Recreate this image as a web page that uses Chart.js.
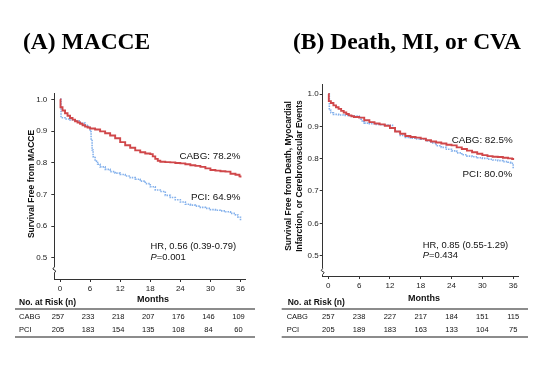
<!DOCTYPE html>
<html><head><meta charset="utf-8">
<script src="https://cdn.jsdelivr.net/npm/chart.js@4.4.1/dist/chart.umd.min.js"></script>
<style>
html,body{margin:0;padding:0;background:#fff;width:550px;height:380px;overflow:hidden}
canvas{position:absolute;top:0}
#cA{left:0}
#cB{left:275px}
</style></head>
<body>
<canvas id="cA" width="275" height="380"></canvas>
<canvas id="cB" width="275" height="380"></canvas>
<script>
// ---------- data ----------
const xTicks = [0, 6, 12, 18, 24, 30, 36];
const yTicks = [0.5, 0.6, 0.7, 0.8, 0.9, 1.0];
const groups = ['CABG', 'PCI'];

// Panel A: MACCE
const maccCabgMonths = [0,0.1,0.5,1,1.5,2,2.5,3,3.5,4,4.5,5,5.5,6,7,8,9,10,11,12,13,14,15,16,17,18,18.5,19,19.5,20,21,22,23,24,25,26,27,28,29,30,31,32,33,34,35,35.8,36];
const maccCabgSurv   = [1.0,0.975,0.965,0.956,0.948,0.941,0.936,0.931,0.927,0.923,0.918,0.914,0.911,0.908,0.905,0.899,0.893,0.886,0.877,0.865,0.855,0.847,0.839,0.833,0.829,0.827,0.82,0.812,0.806,0.803,0.802,0.801,0.799,0.798,0.795,0.792,0.79,0.787,0.782,0.777,0.775,0.773,0.772,0.765,0.762,0.757,0.753];
const maccPciMonths  = [0,0.2,1,2,3,4,5,5.6,6,6.2,6.4,6.6,7,7.5,8,9,10,11,12,13,14,15,16,17,18,19,20,21,22,23,24,25,26,27,28,29,30,31,32,33,34,35,35.5,36];
const maccPciSurv    = [1.0,0.942,0.938,0.935,0.932,0.925,0.918,0.914,0.898,0.87,0.84,0.819,0.805,0.795,0.787,0.779,0.772,0.767,0.763,0.758,0.753,0.748,0.742,0.734,0.724,0.714,0.709,0.697,0.69,0.683,0.676,0.669,0.666,0.663,0.659,0.656,0.652,0.65,0.648,0.645,0.64,0.635,0.628,0.617];
const maccRiskCabg = [257, 233, 218, 207, 176, 146, 109];
const maccRiskPci  = [205, 183, 154, 135, 108, 84, 60];

// Panel B: Death, MI, or CVA
const dmcCabgMonths = [0,0.1,0.5,1,1.5,2,2.5,3,3.5,4,4.5,5,6,7,8,9,10,11,12,13,14,15,16,17,18,19,20,21,22,23,24,25,26,27,28,29,30,31,32,33,34,35,35.8,36];
const dmcCabgSurv   = [1.0,0.978,0.972,0.965,0.959,0.954,0.948,0.943,0.938,0.934,0.931,0.929,0.927,0.919,0.913,0.909,0.906,0.902,0.895,0.884,0.877,0.87,0.867,0.865,0.862,0.857,0.853,0.85,0.847,0.843,0.841,0.835,0.83,0.825,0.82,0.815,0.811,0.808,0.806,0.805,0.803,0.801,0.799,0.796];
const dmcPciMonths  = [0,0.2,0.5,1,2,3,4,5,6,6.3,6.6,7,8,9,10,11,12,12.5,13,14,15,16,17,18,19,20,21,22,23,24,25,26,27,28,29,30,31,32,33,34,35,35.5,36];
const dmcPciSurv    = [1.0,0.95,0.942,0.937,0.935,0.934,0.933,0.932,0.93,0.922,0.914,0.91,0.908,0.906,0.905,0.904,0.903,0.894,0.884,0.872,0.866,0.863,0.861,0.86,0.855,0.849,0.84,0.835,0.829,0.824,0.818,0.812,0.808,0.806,0.803,0.801,0.798,0.796,0.794,0.791,0.789,0.786,0.77];
const dmcRiskCabg = [257, 238, 227, 217, 184, 151, 115];
const dmcRiskPci  = [205, 189, 183, 163, 133, 104, 75];

// ---------- styling ----------
const SANS = '"Liberation Sans", Arial, sans-serif';
const SERIF = '"Liberation Serif", "Times New Roman", serif';
const RED = '#d0474a';
const BLUE = '#84b1ec';
const AXIS = '#333';

function pairs(ms, vs) { return ms.map((m, i) => ({x: m, y: vs[i]})); }

const extras = {
  id: 'extras',
  afterDraw(chart, args, o) {
    const ctx = chart.ctx, xs = chart.scales.x, ys = chart.scales.y, ca = chart.chartArea;
    ctx.save();
    // panel title
    ctx.fillStyle = '#000';
    ctx.font = 'bold 23.5px ' + SERIF;
    ctx.textAlign = 'left'; ctx.textBaseline = 'alphabetic';
    ctx.fillText(o.title, o.titleX, 49);

    // axis break on y axis
    const bx = ca.left, by = o.breakY;
    ctx.fillStyle = '#fff';
    ctx.fillRect(bx - 2, by - 3, 4, 6);
    ctx.strokeStyle = AXIS; ctx.lineWidth = 1;
    ctx.beginPath();
    ctx.moveTo(bx, by - 3); ctx.lineTo(bx - 1.5, by - 1); ctx.lineTo(bx + 1.5, by + 1); ctx.lineTo(bx, by + 3);
    ctx.stroke();

    // y axis title (rotated)
    ctx.fillStyle = '#111';
    ctx.font = 'bold 8.5px ' + SANS;
    ctx.textAlign = 'center'; ctx.textBaseline = 'middle';
    o.yTitle.forEach((line, i) => {
      ctx.save();
      ctx.translate(o.yTitleX[i], o.yTitleY);
      ctx.rotate(-Math.PI / 2);
      ctx.fillText(line, 0, 0);
      ctx.restore();
    });

    // curve labels
    ctx.font = '9.8px ' + SANS;
    ctx.textAlign = 'right'; ctx.textBaseline = 'middle';
    ctx.fillStyle = '#111';
    o.labels.forEach(l => ctx.fillText(l.text, xs.getPixelForValue(l.x), ys.getPixelForValue(l.y)));

    // HR / P
    ctx.font = '9.4px ' + SANS;
    ctx.textAlign = 'left';
    const hx = xs.getPixelForValue(o.hrX);
    ctx.fillText(o.hr, hx, ys.getPixelForValue(o.hrY));
    const py = ys.getPixelForValue(o.pY);
    ctx.font = 'italic 9.4px ' + SANS;
    ctx.fillText('P', hx, py);
    const pw = ctx.measureText('P').width;
    ctx.font = '9.4px ' + SANS;
    ctx.fillText(o.p, hx + pw, py);

    // Months label
    ctx.font = 'bold 9px ' + SANS;
    ctx.textAlign = 'center';
    ctx.fillText('Months', o.monthsX, o.monthsY);

    // risk table
    ctx.textAlign = 'left';
    ctx.font = 'bold 8.5px ' + SANS;
    ctx.fillText('No. at Risk (n)', o.tableLabelX, 303);
    ctx.strokeStyle = '#8c8c8c'; ctx.lineWidth = 2;
    ctx.beginPath();
    ctx.moveTo(o.lineX0, 309); ctx.lineTo(o.lineX1, 309);
    ctx.moveTo(o.lineX0, 337); ctx.lineTo(o.lineX1, 337);
    ctx.stroke();
    ctx.font = '7.5px ' + SANS;
    const rows = [o.riskCabg, o.riskPci];
    const rowY = [317, 329.5];
    rows.forEach((r, i) => {
      ctx.textAlign = 'left';
      ctx.fillText(groups[i], o.tableRowLabelX, rowY[i]);
      ctx.textAlign = 'center';
      r.forEach((n, j) => ctx.fillText(String(n), xs.getPixelForValue(xTicks[j]) + o.colShift, rowY[i]));
    });
    ctx.restore();
  }
};

function makePanel(id, o) {
  return new Chart(document.getElementById(id), {
    type: 'line',
    data: {
      datasets: [
        {label: 'CABG', data: pairs(o.cabgM, o.cabgV), borderColor: RED, borderWidth: 1.9, stepped: true, pointRadius: 0, fill: false},
        {label: 'PCI', data: pairs(o.pciM, o.pciV), borderColor: BLUE, borderWidth: 1.6, borderDash: [1.5, 1], stepped: true, pointRadius: 0, fill: false}
      ]
    },
    options: {
      responsive: false, animation: false, events: [],
      layout: {padding: {left: 0, right: 275 - o.right, top: o.top, bottom: 0}},
      plugins: {legend: {display: false}, tooltip: {enabled: false}, extras: o},
      scales: {
        x: {
          type: 'linear', min: o.xMin, max: o.xMax,
          afterBuildTicks: s => { s.ticks = xTicks.map(v => ({value: v})); },
          afterFit: s => { s.height = 380 - o.bottom; },
          ticks: {autoSkip: false, maxRotation: 0, font: {family: SANS, size: 8}, color: '#222', padding: 2},
          grid: {display: true, drawOnChartArea: false, drawTicks: true, tickLength: 3, color: AXIS},
          border: {display: true, color: AXIS, width: 1}
        },
        y: {
          type: 'linear', min: o.yMin, max: o.yMax,
          afterBuildTicks: s => { s.ticks = yTicks.map(v => ({value: v})); },
          afterFit: s => { s.width = o.left; },
          ticks: {callback: v => v.toFixed(1), font: {family: SANS, size: 8}, color: '#222', padding: o.yPad},
          grid: {display: true, drawOnChartArea: false, drawTicks: true, tickLength: 3, color: AXIS},
          border: {display: true, color: AXIS, width: 1}
        }
      }
    },
    plugins: [extras]
  });
}

makePanel('cA', {
  cabgM: maccCabgMonths, cabgV: maccCabgSurv, pciM: maccPciMonths, pciV: maccPciSurv,
  riskCabg: maccRiskCabg, riskPci: maccRiskPci,
  left: 54.3, right: 245, top: 93, bottom: 279,
  xMin: -1.14, xMax: 36.9, yMin: 0.433, yMax: 1.02, yPad: 4,
  title: '(A) MACCE', titleX: 23,
  breakY: 270,
  yTitle: ['Survival Free from MACCE'], yTitleX: [31.5], yTitleY: 184,
  labels: [{text: 'CABG: 78.2%', x: 36, y: 0.819}, {text: 'PCI: 64.9%', x: 36, y: 0.691}],
  hr: 'HR, 0.56 (0.39-0.79)', p: '=0.001', hrX: 18.07, hrY: 0.535, pY: 0.501,
  monthsX: 153, monthsY: 300,
  tableLabelX: 19, tableRowLabelX: 19, lineX0: 15, lineX1: 255, colShift: -2
});

makePanel('cB', {
  cabgM: dmcCabgMonths, cabgV: dmcCabgSurv, pciM: dmcPciMonths, pciV: dmcPciSurv,
  riskCabg: dmcRiskCabg, riskPci: dmcRiskPci,
  left: 47.7, right: 243.3, top: 84, bottom: 276,
  xMin: -1.09, xMax: 37, yMin: 0.437, yMax: 1.031, yPad: 1,
  title: '(B) Death, MI, or CVA', titleX: 18,
  breakY: 271.5,
  yTitle: ['Survival Free from Death, Myocardial', 'Infarction, or Cerebrovascular Events'], yTitleX: [13.5, 25], yTitleY: 176,
  labels: [{text: 'CABG: 82.5%', x: 35.9, y: 0.856}, {text: 'PCI: 80.0%', x: 35.8, y: 0.753}],
  hr: 'HR, 0.85 (0.55-1.29)', p: '=0.434', hrX: 18.4, hrY: 0.533, pY: 0.502,
  monthsX: 149, monthsY: 298.5,
  tableLabelX: 12.7, tableRowLabelX: 11.7, lineX0: 6.7, lineX1: 253, colShift: 0
});
</script>
</body></html>
